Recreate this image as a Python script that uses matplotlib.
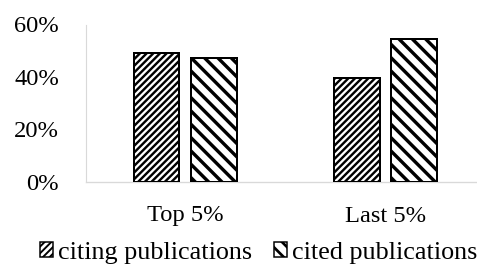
import matplotlib
matplotlib.use("Agg")
import matplotlib.pyplot as plt
from matplotlib.patches import Patch
from matplotlib.ticker import FuncFormatter
import numpy as np

categories = ["Top 5%", "Last 5%"]
series_names = ["citing publications", "cited publications"]
citing = [0.49, 0.397]
cited = [0.473, 0.543]
yticks = [0.0, 0.2, 0.4, 0.6]

DPI = 80
plt.rcParams['font.family'] = ['Liberation Serif', 'DejaVu Serif']
plt.rcParams['hatch.color'] = 'black'
FS = 22
LFS = 23.5
PX = 72 / DPI  # points per pixel

fig = plt.figure(figsize=(477 / DPI, 279 / DPI), dpi=DPI)
ax = fig.add_axes([86 / 477, (279 - 181.5) / 279, (477 - 86) / 477, 157 / 279])


def set_hlw(artist, lw):
    if hasattr(artist, 'set_hatch_linewidth'):
        artist.set_hatch_linewidth(lw)
    artist._hatch_linewidth = lw
    orig = artist.draw

    def draw(renderer, _orig=orig, _lw=lw):
        with plt.rc_context({'hatch.linewidth': _lw}):
            return _orig(renderer)
    artist.draw = draw


x = np.arange(len(categories))
w = 0.228
off = 0.143
hatches = ['////', '\\\\']
hlw = [2.4 * PX, 3.4 * PX]
for i, (vals, h) in enumerate(zip([citing, cited], hatches)):
    with plt.rc_context({'hatch.linewidth': hlw[i]}):
        bars = ax.bar(x + (-off if i == 0 else off), vals, width=w, color='white',
                      edgecolor='black', linewidth=2.0 * PX, hatch=h, zorder=3)
    for b in bars:
        set_hlw(b, hlw[i])

ax.set_xlim(-0.494, 1.456)
ax.set_ylim(0, 0.6)
ax.set_yticks(yticks)
ax.yaxis.set_major_formatter(FuncFormatter(lambda v, p: f"{v*100:.0f}%"))
ax.set_xticks(x)
ax.set_xticklabels(categories)
ax.tick_params(axis='both', length=0, labelsize=FS)
ax.tick_params(axis='y', pad=27 * PX)
ax.tick_params(axis='x', pad=24 * PX)
for s in ['top', 'right']:
    ax.spines[s].set_visible(False)
ax.spines['left'].set_color('#d9d9d9')
ax.spines['bottom'].set_color('#d9d9d9')
ax.spines['left'].set_linewidth(1.0)
ax.spines['bottom'].set_linewidth(1.2)

handles = []
for i, h in enumerate(hatches):
    with plt.rc_context({'hatch.linewidth': hlw[i] * 0.8}):
        handles.append(Patch(facecolor='white', edgecolor='black', hatch=h,
                             linewidth=1.5 * PX, label=series_names[i]))
leg = fig.legend(handles=handles, loc='center left', bbox_to_anchor=(40 / 477, 1 - 253 / 279),
                 ncol=2, frameon=False, fontsize=LFS, handlelength=0.5, handleheight=0.5,
                 handletextpad=0.19, columnspacing=0.85, borderaxespad=0, borderpad=0)
for i, p in enumerate(leg.get_patches()):
    set_hlw(p, hlw[i] * 0.8)

fig.savefig("out.png", dpi=DPI)
